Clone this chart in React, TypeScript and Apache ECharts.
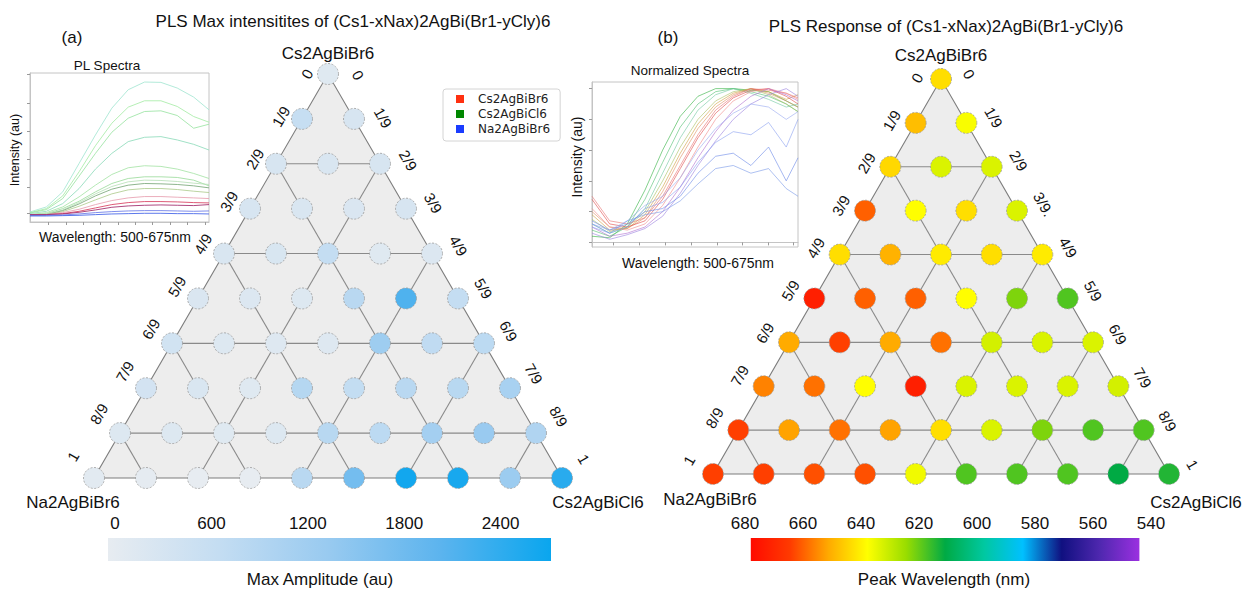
import React, { useEffect, useRef } from "react";
import * as echarts from "echarts";

// ---------------- data ----------------
const N = 9;
const GRID_LEVELS = [2, 4, 6, 8];
const EDGE_TICKS_A_LEFT = ["0", "1/9", "2/9", "3/9", "4/9", "5/9", "6/9", "7/9", "8/9", "1"];
const EDGE_TICKS_A_RIGHT = ["0", "1/9", "2/9", "3/9", "4/9", "5/9", "6/9", "7/9", "8/9", "1"];
const EDGE_TICKS_B_LEFT = ["0", "1/9", "2/9", "3/9", "4/9", "5/9", "6/9", "7/9", "8/9", "1"];
const EDGE_TICKS_B_RIGHT = ["0", "1/9", "2/9", "3/9.", "4/9", "5/9", "6/9", "7/9", "8/9", "1"];

const VERTEX_TOP = "Cs2AgBiBr6";
const VERTEX_LEFT = "Na2AgBiBr6";
const VERTEX_RIGHT = "Cs2AgBiCl6";

// Max amplitude (au), row r (top→bottom), index i (left→right)
const AMPLITUDE_ROWS = [
  [110],
  [610, 280],
  [270, 230, 270],
  [270, 230, 215, 270],
  [230, 250, 650, 110, 180],
  [215, 180, 160, 820, 2130, 650],
  [390, 160, 130, 130, 1240, 710, 770],
  [350, 230, 110, 880, 660, 820, 830, 1080],
  [160, 150, 110, 150, 830, 770, 1150, 1320, 960],
  [60, 0, -40, -44, 820, 1750, 2650, 2600, 1280, 2450],
];

// Peak wavelength (nm)
const PEAK_WAVELENGTH_ROWS = [
  [643],
  [648, 637],
  [644, 633, 633],
  [660, 638, 643, 633],
  [643, 650, 641, 643, 641],
  [672, 660, 660, 638, 622, 618],
  [651, 664, 651, 658, 632, 633, 633],
  [656, 658, 638, 672, 633, 633, 633, 632],
  [664, 652, 658, 652, 643, 633, 622, 618, 618],
  [664, 664, 662, 662, 636, 618, 618, 618, 611, 614],
];

const AMP_TICKS = [0, 600, 1200, 1800, 2400];
const AMP_RANGE = [-44, 2714];
const AMP_COLORS = ["#e7ecf1", "#c4ddf2", "#98caf0", "#5cb4ee", "#0aa6ee"];

const WL_TICKS = [680, 660, 640, 620, 600, 580, 560, 540];
const WL_AXIS_RANGE = [540, 680];
const WL_RANGE = [544, 678];
// colours from 544 nm (min) to 678 nm (max)
const WL_COLORS = ["#9a30e0", "#5028b0", "#101080", "#00c0ff", "#00c8a0", "#00aa44", "#99dd00", "#ffff00", "#ffaa00", "#ff3a00", "#ff0a00"];

// Inset (a): PL spectra
const PL_WAVELENGTHS = [500, 516, 532, 548, 564, 580, 596, 612, 628, 644, 660, 675];
const PL_INTENSITY = [
  [30, 45, 90, 175, 260, 340, 395, 418, 417, 400, 373, 335],
  [28, 40, 78, 150, 228, 295, 343, 362, 362, 345, 315, 298],
  [27, 37, 70, 137, 205, 268, 310, 330, 332, 318, 280, 292],
  [25, 32, 55, 100, 158, 205, 240, 253, 255, 245, 232, 215],
  [22, 28, 45, 75, 110, 142, 162, 168, 166, 158, 145, 130],
  [22, 25, 40, 62, 90, 115, 130, 135, 135, 133, 125, 108],
  [21, 24, 36, 58, 84, 106, 120, 125, 124, 121, 116, 112],
  [20, 22, 34, 54, 78, 98, 110, 115, 114, 112, 108, 102],
  [20, 22, 31, 47, 66, 84, 96, 100, 100, 97, 92, 88],
  [21, 22, 28, 38, 52, 64, 72, 76, 76, 74, 72, 70],
  [22, 22, 25, 32, 42, 52, 58, 61, 61, 60, 58, 57],
  [22, 22, 24, 29, 36, 44, 48, 50, 51, 50, 49, 52],
  [20, 20, 21, 24, 28, 31, 33, 34, 34, 33, 32, 33],
  [18, 18, 19, 20, 22, 24, 25, 26, 26, 25, 25, 24],
];
const PL_COLORS = ["#a4e6d2", "#a8eca8", "#9ce4a4", "#90dcbc", "#a8e4a8", "#9edc9e", "#b8e0b8", "#7aa87a", "#b0cc90", "#e8a0b0", "#d84060", "#a02868", "#6a7ae8", "#4060e8"];
const PL_X_TICKS = [518, 535, 552, 569, 586, 603, 620, 637, 654, 671];
const PL_Y_TICKS = [25, 105, 188, 270, 355, 440];

// Inset (b): normalized spectra
const NS_WAVELENGTHS = [500, 515, 530, 545, 560, 575, 590, 605, 620, 635, 650, 665, 675];
const NS_INTENSITY = [
  [0.04, 0.03, 0.12, 0.34, 0.6, 0.82, 0.95, 1.0, 1.0, 0.99, 0.98, 0.92, 0.88],
  [0.08, 0.04, 0.1, 0.28, 0.52, 0.75, 0.9, 0.98, 1.0, 0.98, 0.95, 0.9, 0.85],
  [0.12, 0.06, 0.1, 0.22, 0.45, 0.68, 0.86, 0.96, 1.0, 0.97, 0.93, 0.88, 0.9],
  [0.15, 0.07, 0.1, 0.2, 0.4, 0.62, 0.8, 0.92, 0.98, 1.0, 0.96, 0.9, 0.85],
  [0.18, 0.08, 0.09, 0.18, 0.36, 0.58, 0.77, 0.9, 0.97, 1.0, 0.98, 0.93, 0.96],
  [0.2, 0.1, 0.09, 0.16, 0.33, 0.55, 0.74, 0.88, 0.96, 1.0, 0.97, 0.92, 0.88],
  [0.28, 0.12, 0.1, 0.14, 0.28, 0.48, 0.68, 0.84, 0.94, 0.99, 1.0, 0.95, 0.9],
  [0.3, 0.14, 0.12, 0.16, 0.3, 0.5, 0.7, 0.86, 0.95, 1.0, 0.99, 0.97, 0.94],
  [0.22, 0.1, 0.08, 0.12, 0.24, 0.42, 0.62, 0.8, 0.92, 0.98, 1.0, 0.97, 0.93],
  [0.1, 0.04, 0.06, 0.1, 0.2, 0.36, 0.55, 0.72, 0.86, 0.95, 1.0, 0.96, 0.92],
  [0.06, 0.02, 0.05, 0.09, 0.17, 0.32, 0.5, 0.66, 0.8, 0.9, 0.96, 1.0, 0.95],
  [0.12, 0.08, 0.14, 0.24, 0.3, 0.42, 0.6, 0.74, 0.84, 0.9, 0.88, 0.8, 0.85],
  [0.1, 0.06, 0.1, 0.22, 0.26, 0.36, 0.52, 0.65, 0.72, 0.7, 0.78, 0.62, 0.8],
  [0.14, 0.08, 0.12, 0.2, 0.22, 0.3, 0.45, 0.56, 0.58, 0.5, 0.62, 0.4, 0.55],
  [0.12, 0.06, 0.14, 0.18, 0.2, 0.27, 0.38, 0.48, 0.5, 0.45, 0.48, 0.35, 0.3],
];
const NS_COLORS = ["#30b040", "#50c070", "#70c8a0", "#a8c060", "#d0a040", "#e09060", "#e04848", "#e87070", "#f08888", "#b070d0", "#9a80e0", "#98a8f0", "#8aa0f0", "#6a88e8", "#7898e8"];
const NS_X_TICKS = [518, 540, 562, 584, 606, 628, 650, 671];
const NS_Y_TICKS = [0, 0.2, 0.4, 0.6, 0.8, 1.0];

const LEGEND_NAMES = ["Cs2AgBiBr6", "Cs2AgBiCl6", "Na2AgBiBr6"];
const LEGEND_COLORS = ["#ff3010", "#008800", "#1a3cff"];

// ---------------- helpers ----------------
const FONT = '"Liberation Sans", Arial, Helvetica, sans-serif';

const toXY = (r: number, i: number) => [i - r / 2, r];

function latticeSegments(): number[][] {
  const segs: number[][] = [];
  GRID_LEVELS.forEach((k) => {
    segs.push([...toXY(k, 0), ...toXY(k, k)]); // horizontal
    segs.push([...toXY(k, k), ...toXY(N, k)]); // parallel to left edge
    segs.push([...toXY(k, 0), ...toXY(N, N - k)]); // parallel to right edge
  });
  return segs;
}

function triangleSeries(g: number) {
  return [
    {
      type: "custom",
      xAxisIndex: g,
      yAxisIndex: g,
      silent: true,
      clip: false,
      z: 1,
      data: [[0, 0]],
      renderItem: (_p: any, api: any) => {
        const pts = [toXY(0, 0), toXY(N, 0), toXY(N, N)].map((q) => api.coord(q));
        return {
          type: "polygon",
          shape: { points: pts },
          style: { fill: "#ededed", stroke: "#7d7d7d", lineWidth: 1.1 },
        };
      },
    },
    {
      type: "custom",
      xAxisIndex: g,
      yAxisIndex: g,
      silent: true,
      clip: false,
      z: 2,
      data: latticeSegments(),
      renderItem: (_p: any, api: any) => {
        const a = api.coord([api.value(0), api.value(1)]);
        const b = api.coord([api.value(2), api.value(3)]);
        return {
          type: "line",
          shape: { x1: a[0], y1: a[1], x2: b[0], y2: b[1] },
          style: { stroke: "#8a8a8a", lineWidth: 1.1 },
        };
      },
    },
  ];
}

function circleSeries(g: number, rows: number[][]) {
  return {
    type: "scatter",
    xAxisIndex: g,
    yAxisIndex: g,
    clip: false,
    silent: true,
    z: 3,
    symbolSize: 21,
    itemStyle: { borderColor: "#9a9a9a", borderWidth: 0.8, borderType: [2, 1.5], opacity: 1 },
    data: rows.flatMap((row, r) => row.map((v, i) => [...toXY(r, i), v])),
  };
}

function edgeLabelSeries(g: number, ticks: string[], side: "left" | "right", off: (r: number) => number[]) {
  return {
    type: "custom",
    xAxisIndex: g,
    yAxisIndex: g,
    silent: true,
    clip: false,
    z: 4,
    data: ticks.map((_t, r) => (side === "left" ? toXY(r, 0) : toXY(r, r))),
    renderItem: (params: any, api: any) => {
      const r = params.dataIndex;
      const p = api.coord([api.value(0), api.value(1)]);
      const [dx, dy] = off(r);
      return {
        type: "text",
        x: p[0] + dx,
        y: p[1] + dy,
        rotation: side === "left" ? Math.PI / 3 : -Math.PI / 3,
        style: {
          text: ticks[r],
          fill: "#111",
          fontSize: 15,
          fontFamily: FONT,
          align: "center",
          verticalAlign: "middle",
        },
      };
    },
  };
}

function colorBarSeries(g: number, range: number[], colorsLeftToRight: string[]) {
  const stops = colorsLeftToRight.map((c, k, arr) => ({ offset: k / (arr.length - 1), color: c }));
  return {
    type: "custom",
    xAxisIndex: g,
    yAxisIndex: g,
    silent: true,
    clip: false,
    data: [[range[0], range[1]]],
    renderItem: (_p: any, api: any) => {
      const a = api.coord([api.value(0), 0]);
      const b = api.coord([api.value(1), 1]);
      const x0 = Math.min(a[0], b[0]);
      const y0 = Math.min(a[1], b[1]);
      return {
        type: "rect",
        shape: { x: x0, y: y0, width: Math.abs(b[0] - a[0]), height: Math.abs(b[1] - a[1]) },
        style: { fill: new echarts.graphic.LinearGradient(0, 0, 1, 0, stops) },
      };
    },
  };
}

function text(t: string, x: number, y: number, size: number, extra: any = {}) {
  return {
    type: "text",
    x,
    y,
    silent: true,
    ...extra,
    style: {
      text: t,
      fill: "#111",
      fontSize: size,
      fontFamily: FONT,
      align: "center",
      verticalAlign: "middle",
      textAlign: "center",
      textVerticalAlign: "middle",
    },
  };
}

const hiddenAxis = (g: number, min: number, max: number, inverse = false) => ({
  gridIndex: g,
  type: "value",
  min,
  max,
  inverse,
  show: false,
});

const insetAxis = (g: number, min: number, max: number, ticks: number[]) => ({
  gridIndex: g,
  type: "value",
  min,
  max,
  axisLine: { show: true, lineStyle: { color: "#c4c4c4", width: 1 } },
  axisTick: { show: true, length: 3, customValues: ticks, lineStyle: { color: "#9a9a9a" } },
  axisLabel: { show: false },
  splitLine: { show: false },
});

const barAxis = (g: number, range: number[], ticks: number[], inverse = false) => ({
  gridIndex: g,
  type: "value",
  position: "top",
  min: range[0],
  max: range[1],
  inverse,
  axisLine: { show: false },
  axisTick: { show: false },
  splitLine: { show: false },
  axisLabel: {
    show: true,
    customValues: ticks,
    formatter: (v: number) => String(v),
    fontSize: 17,
    fontFamily: FONT,
    color: "#111",
    margin: 6,
  },
});

function buildOption() {
  const series: any[] = [];
  // triangle (a)
  series.push(...triangleSeries(0));
  const ampIdx = series.length;
  series.push(circleSeries(0, AMPLITUDE_ROWS));
  series.push(edgeLabelSeries(0, EDGE_TICKS_A_LEFT, "left", (r) => [-21, -2.4 * r]));
  series.push(edgeLabelSeries(0, EDGE_TICKS_A_RIGHT, "right", (r) => [30 - 0.9 * r, 1 - 2.2 * r]));
  // triangle (b)
  series.push(...triangleSeries(1));
  const wlIdx = series.length;
  series.push(circleSeries(1, PEAK_WAVELENGTH_ROWS));
  series.push(edgeLabelSeries(1, EDGE_TICKS_B_LEFT, "left", (r) => [-24, -1 - 1.4 * r]));
  series.push(edgeLabelSeries(1, EDGE_TICKS_B_RIGHT, "right", (r) => [28 - 0.5 * r, -5 - 0.5 * r]));
  // insets
  PL_INTENSITY.forEach((vals, k) =>
    series.push({
      type: "line",
      xAxisIndex: 2,
      yAxisIndex: 2,
      silent: true,
      symbol: "none",
      z: 2,
      lineStyle: { width: 1, color: PL_COLORS[k], opacity: 0.85 },
      data: PL_WAVELENGTHS.map((w, j) => [w, vals[j]]),
    })
  );
  NS_INTENSITY.forEach((vals, k) =>
    series.push({
      type: "line",
      xAxisIndex: 3,
      yAxisIndex: 3,
      silent: true,
      symbol: "none",
      z: 2,
      lineStyle: { width: 1, color: NS_COLORS[k], opacity: 0.6 },
      data: NS_WAVELENGTHS.map((w, j) => [w, vals[j]]),
    })
  );
  // legend entries
  LEGEND_NAMES.forEach((name, k) =>
    series.push({
      type: "line",
      name,
      xAxisIndex: 2,
      yAxisIndex: 2,
      data: [],
      itemStyle: { color: LEGEND_COLORS[k] },
      lineStyle: { color: LEGEND_COLORS[k] },
    })
  );
  // colour bars
  series.push(colorBarSeries(4, AMP_RANGE, AMP_COLORS));
  series.push(colorBarSeries(5, WL_RANGE, WL_COLORS.slice().reverse()));

  return {
    animation: false,
    backgroundColor: "#ffffff",
    grid: [
      { left: 94, top: 74, width: 468, height: 404 },
      { left: 713, top: 79, width: 456, height: 395 },
      { left: 30, top: 73, width: 179, height: 149, show: true, borderColor: "#c4c4c4", borderWidth: 1, backgroundColor: "#fff" },
      { left: 592, top: 82, width: 206, height: 165, show: true, borderColor: "#c4c4c4", borderWidth: 1, backgroundColor: "#fff" },
      { left: 108, top: 538, width: 443, height: 23 },
      { left: 745, top: 538, width: 406, height: 23 },
    ],
    xAxis: [
      hiddenAxis(0, -N / 2, N / 2),
      hiddenAxis(1, -N / 2, N / 2),
      insetAxis(2, 500, 675, PL_X_TICKS),
      insetAxis(3, 500, 675, NS_X_TICKS),
      barAxis(4, AMP_RANGE, AMP_TICKS),
      barAxis(5, WL_AXIS_RANGE, WL_TICKS, true),
    ],
    yAxis: [
      hiddenAxis(0, 0, N, true),
      hiddenAxis(1, 0, N, true),
      insetAxis(2, 0, 445, PL_Y_TICKS),
      insetAxis(3, -0.03, 1.043, NS_Y_TICKS),
      hiddenAxis(4, 0, 1),
      hiddenAxis(5, 0, 1),
    ],
    visualMap: [
      { type: "continuous", show: false, seriesIndex: ampIdx, dimension: 2, min: AMP_RANGE[0], max: AMP_RANGE[1], inRange: { color: AMP_COLORS } },
      { type: "continuous", show: false, seriesIndex: wlIdx, dimension: 2, min: WL_RANGE[0], max: WL_RANGE[1], inRange: { color: WL_COLORS } },
    ],
    legend: {
      data: LEGEND_NAMES.map((n) => ({ name: n, icon: "rect" })),
      orient: "vertical",
      left: 443,
      top: 89,
      itemWidth: 8,
      itemHeight: 8,
      itemGap: 3,
      padding: [4, 10, 6, 13],
      borderColor: "#d4d4d4",
      borderWidth: 1,
      borderRadius: 3,
      selectedMode: false,
      textStyle: { fontFamily: "DejaVu Sans", fontSize: 12, color: "#222", padding: [0, 0, 0, 9] },
    },
    graphic: [
      text("(a)", 72, 37, 17),
      text("PLS Max intensitites of (Cs1-xNax)2AgBi(Br1-yCly)6", 353, 21, 17),
      text("(b)", 668, 37, 17),
      text("PLS Response of (Cs1-xNax)2AgBi(Br1-yCly)6", 946, 26, 17),
      text(VERTEX_TOP, 328, 53, 17),
      text(VERTEX_LEFT, 73, 502, 17),
      text(VERTEX_RIGHT, 598, 502, 17),
      text(VERTEX_TOP, 941, 55, 17),
      text(VERTEX_LEFT, 710, 499, 17),
      text(VERTEX_RIGHT, 1196, 502, 17),
      text("PL Spectra", 107, 65, 13.5),
      text("Intensity (au)", 15, 150, 12.5, { rotation: Math.PI / 2 }),
      text("Wavelength: 500-675nm", 115, 237, 14),
      text("Normalized Spectra", 690, 70, 13.5),
      text("Intensity (au)", 577, 157, 14, { rotation: Math.PI / 2 }),
      text("Wavelength: 500-675nm", 698, 263, 14),
      text("Max Amplitude (au)", 320, 579, 17),
      text("Peak Wavelength (nm)", 944, 579, 17),
    ],
    series,
  };
}

export default function App() {
  const ref = useRef<HTMLDivElement>(null);
  useEffect(() => {
    if (!ref.current) return;
    const chart = echarts.init(ref.current, null, { renderer: "svg" });
    chart.setOption(buildOption() as any);
    return () => chart.dispose();
  }, []);
  return (
    <div
      ref={ref}
      style={{ position: "fixed", left: 0, top: 0, width: 1245, height: 590, background: "#fff" }}
    />
  );
}
